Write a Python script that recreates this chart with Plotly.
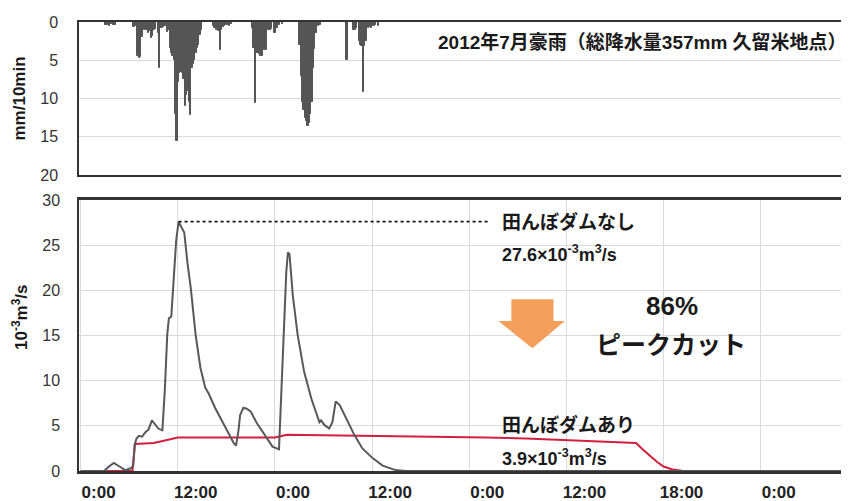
import plotly.graph_objects as go

# ---- rainfall (10-minute steps from 0:00 of day 1), mm/10min ----
rain_step = [18, 19, 21, 22, 24, 25,
             39, 40, 42, 43, 44, 45, 46, 47, 48, 50, 51, 52, 53, 54, 55,
             57, 58, 59, 60, 61, 62, 64, 65,
             66, 67, 68, 69, 70, 71, 72, 73, 74, 75, 76, 77, 78, 79, 80, 81,
             82, 83, 84, 85, 86, 87, 88, 89,
             98, 99, 100, 101, 102, 103, 104, 105, 106, 108, 110, 111,
             127, 128, 129, 130, 131, 132, 133, 134, 135, 136, 137, 138, 139,
             140, 141, 143, 144, 145, 146, 147, 149,
             162, 163, 164, 165, 166, 167, 168, 169, 170, 171, 172, 173, 174,
             176, 177,
             197, 202, 203, 204, 206, 207, 208, 209, 210, 211, 213, 214, 215,
             217, 218, 220]
rain_mm = [0.4, 0.4, 0.5, 0.3, 0.4, 0.4,
           0.6, 0.5, 4.5, 4.7, 4.6, 2.0, 1.0, 0.8, 1.0, 1.5, 1.2, 2.1, 1.8, 1.0, 0.9,
           1.5, 6.0, 0.8, 0.8, 0.6, 0.5, 1.3, 1.0,
           3.4, 4.0, 4.5, 5.0, 12.0, 15.6, 7.8, 6.7, 6.5, 6.7, 7.5, 11.0, 9.5, 9.0, 10.5, 12.1,
           6.0, 5.5, 5.0, 4.0, 3.4, 3.0, 1.7, 1.0,
           0.5, 0.8, 1.0, 0.8, 1.2, 3.6, 1.0, 0.7, 0.5, 0.4, 0.5, 0.3,
           0.8, 3.4, 10.6, 4.1, 4.0, 4.2, 4.5, 4.4, 3.6, 3.5, 3.6, 0.8, 1.0,
           1.0, 0.9, 1.5, 1.4, 0.8, 0.4, 0.4, 0.3,
           3.0, 7.0, 10.5, 11.5, 12.5, 13.0, 13.6, 13.2, 12.0, 10.5, 6.0, 3.5, 1.5,
           0.5, 0.4,
           5.0, 1.0, 1.0, 0.8, 2.5, 3.0, 3.2, 9.1, 3.2, 2.5, 0.8, 0.7, 0.8,
           0.5, 0.4, 0.5]

# ---- discharge, 10^-3 m3/s ----
nodam_hours = [0, 2.9, 3.5, 4.1, 4.8, 5.5, 6.2, 6.5, 6.7, 6.9, 7.2, 7.6, 8.0, 8.4,
               8.8, 9.2, 9.6, 10.1, 10.4, 10.7, 10.9, 11.2, 11.5, 11.8, 12.1,
               12.5, 12.8, 13.2, 13.6, 14.2, 14.8, 15.4, 15.8, 16.6, 17.9, 18.9,
               19.2, 19.5, 19.7, 20.1, 20.5, 21.0, 21.7, 22.9, 23.7, 24.5, 24.9,
               25.4, 25.6, 25.8, 26.2, 26.8, 27.6, 28.5, 29.5, 29.7, 30.1, 30.7,
               31.1, 31.5, 32.0, 32.8, 33.8, 34.8, 36.1, 37.3, 38.9, 40.2, 94.9]
nodam_flow = [0, 0, 0.5, 0.9, 0.5, 0.1, 0.3, 0.6, 3.0, 3.6, 3.9, 3.8, 4.3, 4.6,
              5.6, 5.1, 4.7, 4.5, 9.0, 15.1, 16.9, 17.1, 21.7, 25.5, 27.6,
              27.0, 26.4, 23.0, 20.3, 15.1, 11.4, 9.2, 8.6, 7.0, 4.7, 3.1,
              2.8, 4.5, 6.2, 7.0, 6.9, 6.6, 5.4, 3.8, 2.7, 2.4, 12.1,
              22.0, 24.2, 24.0, 19.5, 15.1, 11.0, 8.0, 5.4, 5.6, 5.1, 4.7,
              5.4, 7.7, 7.3, 5.8, 4.0, 2.5, 1.4, 0.6, 0.1, 0, 0]
dam_hours = [0, 6.4, 6.7, 8.0, 9.0, 10.0, 11.0, 12.0, 18.0, 24.0, 25.5, 30.0,
             35.0, 40.0, 45.0, 50.0, 55.0, 60.0, 65.0, 68.6, 69.4, 70.3, 71.2,
             72.0, 73.0, 74.4]
dam_flow = [0, 0, 3.0, 3.05, 3.1, 3.3, 3.5, 3.7, 3.7, 3.7, 4.0, 3.95,
            3.9, 3.85, 3.8, 3.7, 3.6, 3.4, 3.2, 3.1, 2.4, 1.7, 1.0,
            0.5, 0.2, 0]

tick_hours = [0, 12, 24, 36, 48, 60, 72, 84]
tick_labels = ["0:00", "12:00", "0:00", "12:00", "0:00", "12:00", "18:00", "0:00"]

FONT = "Liberation Sans, Arial, Noto Sans CJK JP, sans-serif"
X_RANGE = [-0.2, 94.9]

fig = go.Figure()
fig.add_trace(go.Bar(
    x=[s / 6 for s in rain_step], y=rain_mm, width=1 / 6, offset=0,
    marker=dict(color="#555555", line=dict(color="#555555", width=1)),
    xaxis="x2", yaxis="y2", showlegend=False))
fig.add_trace(go.Scatter(
    x=dam_hours, y=dam_flow, mode="lines",
    line=dict(color="#d31f3f", width=2), showlegend=False))
fig.add_trace(go.Scatter(
    x=nodam_hours, y=nodam_flow, mode="lines",
    line=dict(color="#585858", width=2), showlegend=False))

peak_i = nodam_flow.index(max(nodam_flow))
fig.add_trace(go.Scatter(
    x=[nodam_hours[peak_i], 50.3], y=[max(nodam_flow)] * 2, mode="lines",
    line=dict(color="#111111", width=1.6, dash="dot"), showlegend=False))

grid = "#dadada"
axis_line = "#333333"
fig.update_layout(
    width=841, height=493,
    margin=dict(l=71, r=0, t=14, b=30),
    paper_bgcolor="white", plot_bgcolor="white",
    font=dict(family=FONT, color="#222222"),
    bargap=0,
    xaxis=dict(domain=[0, 1], range=X_RANGE, anchor="y", automargin=False,
               tickvals=tick_hours, ticktext=tick_labels,
               tickfont=dict(size=17, color="#222222", family=FONT, weight="bold"),
               ticklabelshift=18, ticks="outside", ticklen=4, tickcolor="rgba(0,0,0,0)",
               showgrid=True, gridcolor=grid, gridwidth=1,
               showline=True, linecolor=axis_line, linewidth=2.5, mirror=True,
               zeroline=False),
    yaxis=dict(domain=[0, 0.6036], range=[0, 30], dtick=5, anchor="x", automargin=False,
               tickfont=dict(size=16, color="#333333"),
               ticks="outside", ticklen=14, tickcolor="rgba(0,0,0,0)",
               showgrid=True, gridcolor=grid, gridwidth=1,
               showline=True, linecolor=axis_line, linewidth=1.5,
               zeroline=False),
    xaxis2=dict(domain=[0, 1], range=X_RANGE, anchor="y2", matches="x", automargin=False,
                showticklabels=False, showgrid=False,
                showline=True, linecolor=axis_line, linewidth=1.5, mirror=True,
                zeroline=False),
    yaxis2=dict(domain=[0.6592, 1], range=[20, 0], dtick=5, anchor="x2", automargin=False,
                tickfont=dict(size=16, color="#333333"),
                ticks="outside", ticklen=16, tickcolor="rgba(0,0,0,0)",
                showgrid=True, gridcolor=grid, gridwidth=1,
                showline=True, linecolor=axis_line, linewidth=1.5,
                zeroline=False),
)


def note(text, x, y, size, xanchor="left", xref="x", yref="y"):
    fig.add_annotation(text=text, x=x, y=y, xref=xref, yref=yref,
                       xanchor=xanchor, yanchor="middle", showarrow=False,
                       font=dict(size=size, color="#1a1a1a", family=FONT))


note("<b>2012年7月豪雨（総降水量357mm 久留米地点）</b>", 1.0, 2.6, 19,
     xanchor="right", xref="paper", yref="y2")
note("<b>田んぼダムなし</b>", 51.8, 27.6, 19)
note("<b>27.6×10<sup>-3</sup>m<sup>3</sup>/s</b>", 51.8, 24.1, 18)
note("<b>田んぼダムあり</b>", 51.8, 5.1, 19)
note("<b>3.9×10<sup>-3</sup>m<sup>3</sup>/s</b>", 51.8, 1.5, 18)
note("<b>86%</b>", 73.0, 18.3, 26, xanchor="center")
note("<b>ピークカット</b>", 72.9, 13.9, 25, xanchor="center")

# axis titles (rotated)
title_x = (20 - 79) / 770
fig.add_annotation(text="<b>mm/10min</b>", x=title_x, y=0.5, xref="paper",
                   yref="y2 domain", xanchor="center", yanchor="middle",
                   showarrow=False, textangle=-90,
                   font=dict(size=17, color="#1a1a1a", family=FONT))
fig.add_annotation(text="<b>10<sup>-3</sup>m<sup>3</sup>/s</b>", x=title_x, y=0.565,
                   xref="paper", yref="y domain", xanchor="center", yanchor="middle",
                   showarrow=False, textangle=-90,
                   font=dict(size=17, color="#1a1a1a", family=FONT))

# orange down arrow
fig.add_shape(type="path", xref="x", yref="y",
              path="M 53.2,19.0 L 58.4,19.0 L 58.4,16.6 L 59.8,16.6 L 55.8,13.6 "
                   "L 51.6,16.6 L 53.2,16.6 Z",
              fillcolor="#f4a05c", line=dict(width=0), layer="above")

fig.write_html("out.html")
